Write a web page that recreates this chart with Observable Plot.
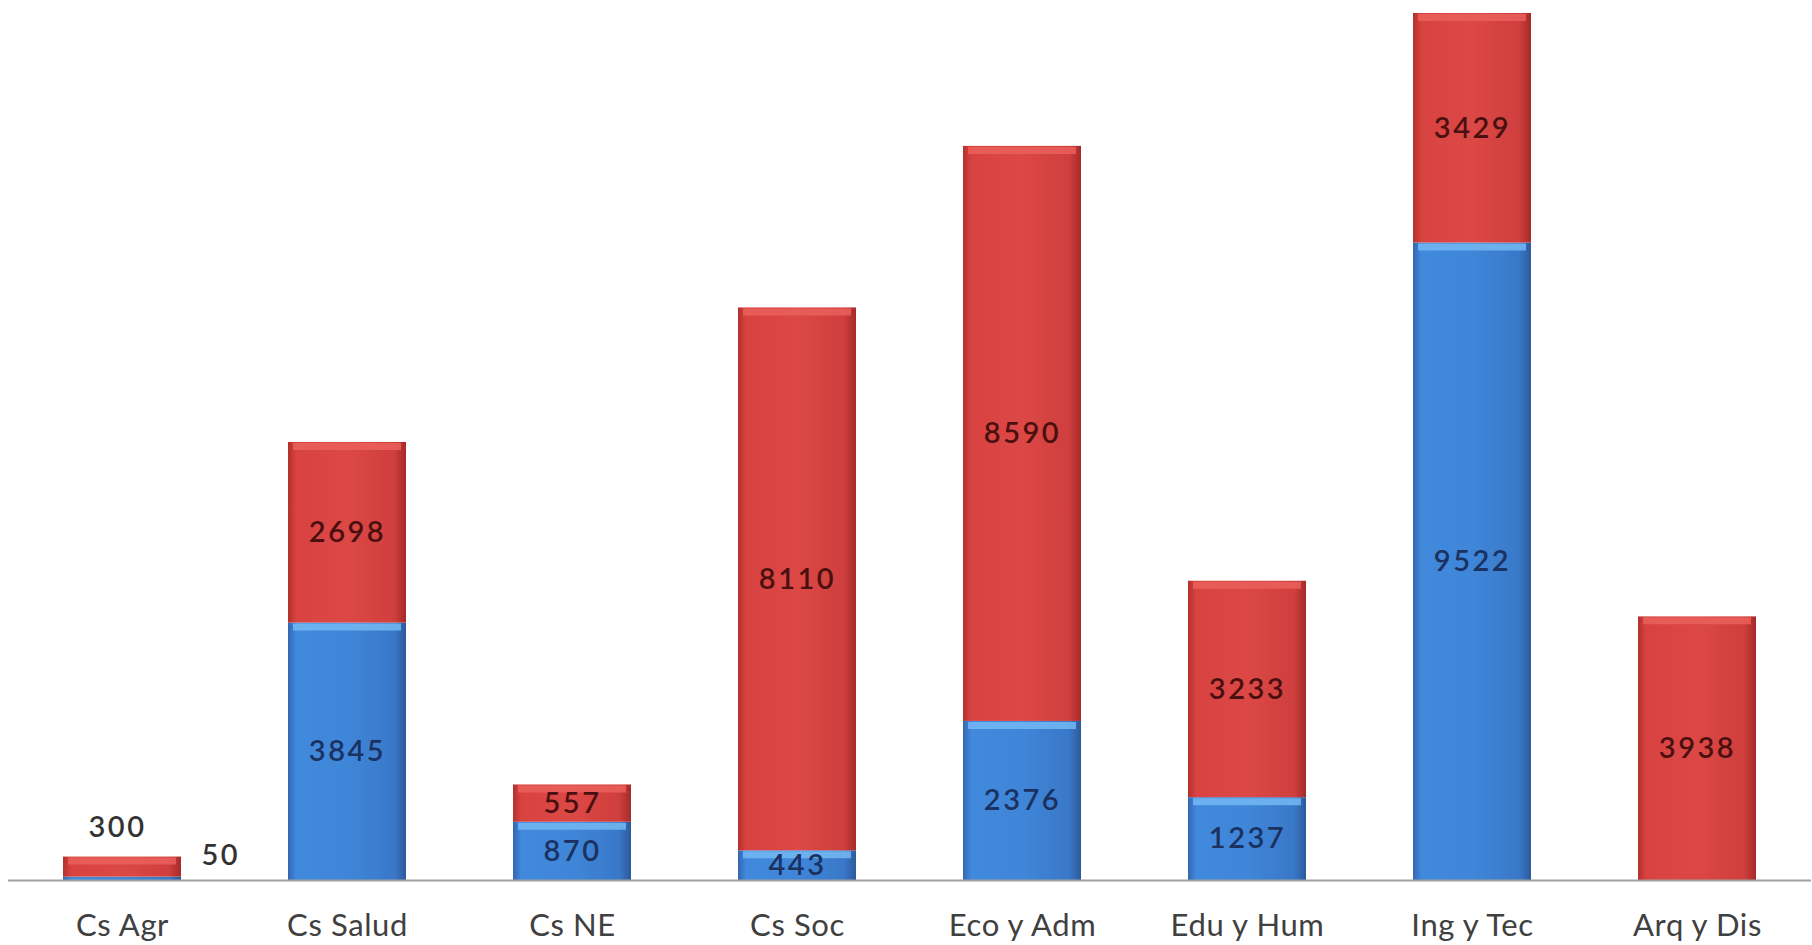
<!DOCTYPE html>
<html>
<head>
<meta charset="utf-8">
<script src="https://cdn.jsdelivr.net/npm/d3@7"></script>
<script src="https://cdn.jsdelivr.net/npm/@observablehq/plot@0.6"></script>
<style>
  html, body { margin: 0; padding: 0; background: #fff; overflow: hidden; }
  #chart svg { display: block; }
</style>
</head>
<body>
<div id="chart"></div>
<script>
const categories = ["Cs Agr", "Cs Salud", "Cs NE", "Cs Soc", "Eco y Adm", "Edu y Hum", "Ing y Tec", "Arq y Dis"];
const seriesNames = ["Serie 1", "Serie 2"];
const blueValues = [50, 3845, 870, 443, 2376, 1237, 9522, 0];
const redValues  = [300, 2698, 557, 8110, 8590, 3233, 3429, 3938];
const outsideLabelCategories = ["Cs Agr"];

const rows = [];
categories.forEach((c, i) => {
  rows.push({cat: c, series: seriesNames[0], value: blueValues[i], total: blueValues[i] + redValues[i]});
  rows.push({cat: c, series: seriesNames[1], value: redValues[i], total: blueValues[i] + redValues[i]});
});
const isOutside = d => outsideLabelCategories.includes(d.cat);
const labelFont = {fontFamily: "Lato, 'Open Sans', sans-serif", fontSize: 29, fontWeight: 600};

const chart = Plot.plot({
  width: 1812,
  height: 945,
  marginTop: 13,
  marginBottom: 65,
  marginLeft: 8,
  marginRight: 1,
  style: {fontFamily: "Lato, 'Open Sans', sans-serif", background: "#fff"},
  x: {domain: categories, paddingInner: 0.477, paddingOuter: 0.24, label: null, tickSize: 0, tickPadding: 33},
  y: {axis: null},
  color: {type: "ordinal", domain: seriesNames, range: ["url(#gBlue)", "url(#gRed)"]},
  marks: [
    Plot.barY(rows, {x: "cat", y: "value", fill: "series"}),
    // top bevel highlight of each segment
    Plot.tickY(rows, Plot.stackY2({
      x: "cat", y: "value",
      stroke: "series", strokeWidth: 7, dy: 4, insetLeft: 5, insetRight: 5,
      strokeOpacity: d => d.value >= 100 ? 0.85 : 0
    })),
    Plot.ruleY([0], {stroke: "#a0a0a0", strokeWidth: 2}),
    Plot.text(rows, Plot.stackY({
      x: "cat", y: "value",
      text: d => (d.series === seriesNames[0] && d.value > 0 && !isOutside(d)) ? String(d.value) : "",
      fill: "#1b3160", ...labelFont
    })),
    Plot.text(rows, Plot.stackY({
      x: "cat", y: "value",
      text: d => (d.series === seriesNames[1] && d.value > 0 && !isOutside(d)) ? String(d.value) : "",
      fill: "#4a1010", ...labelFont
    })),
    Plot.text(rows.filter(d => isOutside(d) && d.series === seriesNames[1]), {
      x: "cat", y: "total", text: d => String(d.value), dy: -29, dx: -5,
      fill: "#333", ...labelFont
    }),
    Plot.text(rows.filter(d => isOutside(d) && d.series === seriesNames[0]), {
      x: "cat", y: 0, text: d => String(d.value), dy: -25, dx: 79, textAnchor: "start",
      fill: "#333", ...labelFont
    })
  ]
});

// gradients for the bevelled bar look
const ns = "http://www.w3.org/2000/svg";
const defs = document.createElementNS(ns, "defs");
function grad(id, stops) {
  const g = document.createElementNS(ns, "linearGradient");
  g.setAttribute("id", id);
  g.setAttribute("x1", "0"); g.setAttribute("x2", "1");
  g.setAttribute("y1", "0"); g.setAttribute("y2", "0");
  stops.forEach(([o, c]) => {
    const s = document.createElementNS(ns, "stop");
    s.setAttribute("offset", o); s.setAttribute("stop-color", c);
    g.appendChild(s);
  });
  defs.appendChild(g);
}
grad("gRed", [["0", "#b3302e"], ["0.07", "#d84341"], ["0.5", "#dc4845"], ["0.9", "#cf3f3d"], ["1", "#a52a29"]]);
grad("gBlue", [["0", "#3466b0"], ["0.07", "#4189dc"], ["0.5", "#3f86d9"], ["0.9", "#3a78c8"], ["1", "#2c5a9c"]]);
chart.insertBefore(defs, chart.firstChild);

// highlight colours for the bevel ticks
chart.querySelectorAll("[aria-label='tick'] line").forEach(l => {
  const s = l.getAttribute("stroke") || "";
  if (s.includes("gBlue")) l.setAttribute("stroke", "#74b8f2");
  else if (s.includes("gRed")) l.setAttribute("stroke", "#ea605c");
});

chart.querySelectorAll("[aria-label='text'] text").forEach(t => t.setAttribute("letter-spacing", "2.5"));
const ax = chart.querySelector("[aria-label='x-axis tick label']");
if (ax) {
  ax.setAttribute("font-size", "31");
  ax.setAttribute("fill", "#404040");
  ax.setAttribute("letter-spacing", "0.6");
}
document.getElementById("chart").appendChild(chart);
</script>
</body>
</html>
